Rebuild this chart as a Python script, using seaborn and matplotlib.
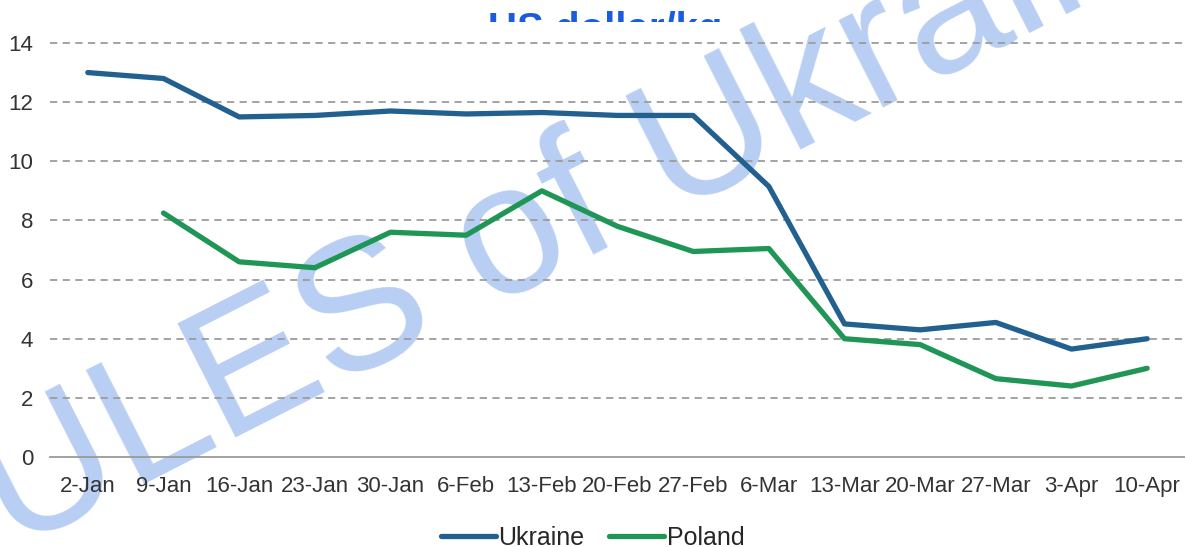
import numpy as np
import pandas as pd
import seaborn as sns
import matplotlib.pyplot as plt

# weekly prices, US dollar/kg
weeks = ["2-Jan", "9-Jan", "16-Jan", "23-Jan", "30-Jan", "6-Feb", "13-Feb", "20-Feb",
         "27-Feb", "6-Mar", "13-Mar", "20-Mar", "27-Mar", "3-Apr", "10-Apr"]
ukraine = [13.0, 12.8, 11.5, 11.55, 11.7, 11.6, 11.65, 11.55, 11.55, 9.15, 4.5, 4.3, 4.55, 3.65, 4.0]
poland = [np.nan, 8.25, 6.6, 6.4, 7.6, 7.5, 9.0, 7.8, 6.95, 7.05, 4.0, 3.8, 2.65, 2.4, 3.0]
y_ticks = [0, 2, 4, 6, 8, 10, 12, 14]

df = pd.concat([
    pd.DataFrame({"week": weeks, "price": ukraine, "country": "Ukraine"}),
    pd.DataFrame({"week": weeks, "price": poland, "country": "Poland"}),
], ignore_index=True)
df["pos"] = df["week"].map({w: i for i, w in enumerate(weeks)})

sns.set_style("white")
plt.rcParams["font.family"] = ["Liberation Sans", "DejaVu Sans"]

fig = plt.figure(figsize=(11.85, 5.47), dpi=100)
ax = fig.add_axes([50 / 1185, 1 - 457 / 547, 1 - 50 / 1185, (457 - 22) / 547])
ax.set_zorder(1)
ax.patch.set_facecolor("white")

# title sits partly behind the plot area, like in the source
fig.text(605 / 1185, 1 - 41 / 547, "US dollar/kg", ha="center", va="baseline",
         fontsize=29, fontweight="bold", color="#1a5ce0", zorder=0)

sns.lineplot(data=df, x="pos", y="price", hue="country", sort=False,
             palette={"Ukraine": "#22608f", "Poland": "#1f9656"},
             linewidth=3.8, ax=ax, legend=True, zorder=3)

ax.set_xlim(-0.5, len(weeks) - 0.5)
ax.set_ylim(0, 14.71)
ax.set_yticks(y_ticks)
ax.set_xticks(range(len(weeks)))
ax.set_xticklabels(weeks, fontsize=16, color="#333333")
ax.set_xticks(np.arange(-0.5, len(weeks), 1), minor=True)
ax.tick_params(axis="x", which="major", length=0, pad=14)
ax.tick_params(axis="x", which="minor", length=6, width=1, color="#9a9a9a", direction="out")
ax.tick_params(axis="y", length=0, pad=12, labelsize=16, labelcolor="#333333")
ax.set_xlabel("")
ax.set_ylabel("")

for v in y_ticks[1:]:
    ax.axhline(v, color="#9c9c9c", linewidth=1.3, linestyle=(0, (4, 3)), zorder=1)

for side in ["left", "right", "top"]:
    ax.spines[side].set_visible(False)
ax.spines["bottom"].set_color("#9a9a9a")
ax.spines["bottom"].set_linewidth(1.3)

handles, labels = ax.get_legend_handles_labels()
ax.get_legend().remove()
fig.legend(handles, labels, loc="center", bbox_to_anchor=(0.5, 1 - 538 / 547), ncol=2,
           frameon=False, handlelength=2.2, handletextpad=0.1, columnspacing=1.0,
           prop={"size": 18})

# watermark, behind gridlines and data lines
ax.text(-125 / 1185, 1 - 621 / 547, "MULES of Ukraine", transform=fig.transFigure,
        ha="left", va="baseline", rotation=27, rotation_mode="anchor",
        fontsize=133, color="#b8cef3", zorder=0.5, clip_on=False)

fig.savefig("out.png", dpi=100)
